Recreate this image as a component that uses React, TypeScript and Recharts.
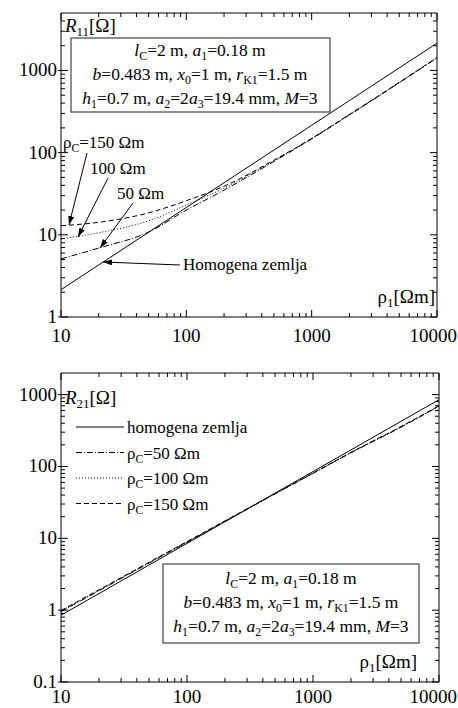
import React from 'react';
import { LineChart, Line, XAxis, YAxis } from 'recharts';

// rho_1 [Ohm m]
const rho = [10, 20, 50, 100, 200, 500, 1000, 2000, 5000, 10000];

// R11 [Ohm]
const r11Homo = [2.15, 4.3, 10.75, 21.5, 43, 107.5, 215, 430, 1075, 2150];
const r11C50 = [5.1, 6.9, 10.8, 20, 35, 78, 147, 287, 708, 1420];
const r11C100 = [8.9, 10.6, 14.8, 23, 37, 80, 148, 289, 712, 1430];
const r11C150 = [12.9, 14.2, 18.5, 26, 39, 81, 149, 291, 716, 1440];

// R21 [Ohm]
const r21Homo = [0.85, 1.7, 4.25, 8.5, 17, 42.5, 85, 170, 425, 850];
const r21C50 = [0.95, 1.86, 4.52, 8.8, 17.1, 41.5, 80, 155, 352, 690];
const r21C100 = [0.97, 1.89, 4.58, 8.9, 17.3, 41.8, 80.5, 156, 356, 695];
const r21C150 = [0.99, 1.92, 4.64, 9.0, 17.5, 42.1, 81, 157, 360, 700];

const xMajor = [10, 100, 1000, 10000];
const xMinor = [20, 30, 40, 50, 60, 70, 80, 90, 200, 300, 400, 500, 600, 700, 800, 900,
  2000, 3000, 4000, 5000, 6000, 7000, 8000, 9000];
const y1Major = [1, 10, 100, 1000];
const y1Minor = [2, 3, 4, 5, 6, 7, 8, 9, 20, 30, 40, 50, 60, 70, 80, 90,
  200, 300, 400, 500, 600, 700, 800, 900, 2000, 3000, 4000];
const y2Major = [0.1, 1, 10, 100, 1000];
const y2Minor = [0.2, 0.3, 0.4, 0.5, 0.6, 0.7, 0.8, 0.9, 2, 3, 4, 5, 6, 7, 8, 9,
  20, 30, 40, 50, 60, 70, 80, 90, 200, 300, 400, 500, 600, 700, 800, 900];

const FONT = '"Liberation Serif", "Times New Roman", "DejaVu Serif", serif';
const fontStyle = { fontFamily: FONT };

const r11Data = rho.map((r, i) => ({ rho: r, homo: r11Homo[i], c50: r11C50[i], c100: r11C100[i], c150: r11C150[i] }));
const r21Data = rho.map((r, i) => ({ rho: r, homo: r21Homo[i], c50: r21C50[i], c100: r21C100[i], c150: r21C150[i] }));

// inward ticks, longer on decades (small stub outside on the left)
const makeTick = (side: string, majors: number[], label: boolean, lblOff = 24) => (props: any) => {
  const { x, y, payload } = props;
  const v = payload.value;
  const major = majors.includes(v);
  const len = major ? 7 : 4;
  let line;
  if (side === 'bottom') line = <line x1={x} y1={y} x2={x} y2={y - len} stroke="#000" />;
  else if (side === 'top') line = <line x1={x} y1={y} x2={x} y2={y + len} stroke="#000" />;
  else if (side === 'left') line = <line x1={major ? x - 3 : x} y1={y} x2={x + len} y2={y} stroke="#000" />;
  else line = <line x1={x} y1={y} x2={x - len} y2={y} stroke="#000" />;
  let txt = null;
  if (label && major) {
    if (side === 'bottom') {
      // keep the last label inside the page
      const edge = x + 24 > 457;
      txt = <text x={edge ? 457 : x} y={y + lblOff} textAnchor={edge ? 'end' : 'middle'} fontSize={19} style={fontStyle} fill="#000">{String(v)}</text>;
    }
    if (side === 'left') txt = <text x={x - 4} y={y + 6} textAnchor="end" fontSize={19} style={fontStyle} fill="#000">{String(v)}</text>;
  }
  return <g>{line}{txt}</g>;
};

type Part = [string, string?];
function Rich({ parts, ...rest }: any) {
  let low = false;
  return (
    <text style={fontStyle} fill="#000" {...rest}>
      {parts.map(([t, k = 'n']: Part, i: number) => {
        let dy = 0;
        if (k === 's' && !low) { dy = 4; low = true; }
        else if (k !== 's' && low) { dy = -4; low = false; }
        return (
          <tspan key={i} dy={dy || undefined} fontStyle={k === 'i' ? 'italic' : undefined}
            fontSize={k === 's' ? '0.68em' : undefined}>{t}</tspan>
        );
      })}
    </text>
  );
}

const paramLines: Part[][] = [
  [['l', 'i'], ['C', 's'], ['=2 m, '], ['a', 'i'], ['1', 's'], ['=0.18 m']],
  [['b', 'i'], ['=0.483 m, '], ['x', 'i'], ['0', 's'], ['=1 m, '], ['r', 'i'], ['K1', 's'], ['=1.5 m']],
  [['h', 'i'], ['1', 's'], ['=0.7 m, '], ['a', 'i'], ['2', 's'], ['=2'], ['a', 'i'], ['3', 's'], ['=19.4 mm, '], ['M', 'i'], ['=3']],
];

function ParamBox({ x, y, w, h, cx, base }: any) {
  return (
    <g>
      <rect x={x} y={y} width={w} height={h} fill="#fff" stroke="#444" strokeWidth={1.2} />
      {paramLines.map((p, i) => (
        <Rich key={i} parts={p} x={cx} y={base + i * 24} textAnchor="middle" fontSize={17.5} />
      ))}
    </g>
  );
}

const series = [
  { key: 'homo', dash: undefined, name: 'homogena zemlja' },
  { key: 'c50', dash: '6 2 1 2', name: '50' },
  { key: 'c100', dash: '1 2', name: '100' },
  { key: 'c150', dash: '5 3', name: '150' },
];

function Chart({ data, yDomain, yMajor, yMinor, height, margin, lblOff }: any) {
  const yTicks = [...yMajor, ...yMinor];
  const xTicks = [...xMajor, ...xMinor];
  const base = { tickLine: false, tickSize: 0, tickMargin: 0, interval: 0 as const, allowDataOverflow: true, axisLine: { stroke: '#000' } };
  const xCommon = { ...base, type: 'number' as const, dataKey: 'rho', scale: 'log' as const, domain: [10, 10000], ticks: xTicks };
  const yCommon = { ...base, type: 'number' as const, scale: 'log' as const, domain: yDomain, ticks: yTicks };
  return (
    <LineChart width={458} height={height} data={data} margin={{ top: 0, right: 0, bottom: 0, left: 0 }} style={fontStyle}>
      <XAxis xAxisId="b" orientation="bottom" height={margin.bottom} {...xCommon} tick={makeTick('bottom', xMajor, true, lblOff)} />
      <XAxis xAxisId="t" orientation="top" height={margin.top} {...xCommon} tick={makeTick('top', xMajor, false)} />
      <YAxis yAxisId="l" orientation="left" width={margin.left} {...yCommon} tick={makeTick('left', yMajor, true)} />
      <YAxis yAxisId="r" orientation="right" width={margin.right} {...yCommon} tick={makeTick('right', yMajor, false)} />
      {series.map((s) => (
        <Line key={s.key} xAxisId="b" yAxisId="l" dataKey={s.key} stroke="#000" strokeWidth={1}
          strokeDasharray={s.dash} dot={false} isAnimationActive={false} type="monotone" />
      ))}
    </LineChart>
  );
}

export default function App() {
  return (
    <div style={{ position: 'absolute', left: 0, top: 0, width: 458, height: 708, background: '#fff', fontFamily: FONT }}>
      <div style={{ position: 'absolute', left: 0, top: 0 }}>
        <Chart data={r11Data} yDomain={[1, 5000]} yMajor={y1Major} yMinor={y1Minor} height={350}
          margin={{ top: 13, bottom: 33, left: 61, right: 21 }} lblOff={25} />
      </div>
      <div style={{ position: 'absolute', left: 0, top: 350 }}>
        <Chart data={r21Data} yDomain={[0.1, 2000]} yMajor={y2Major} yMinor={y2Minor} height={358}
          margin={{ top: 23, bottom: 26, left: 61, right: 19 }} lblOff={21} />
      </div>
      <svg width={458} height={708} style={{ position: 'absolute', left: 0, top: 0, pointerEvents: 'none', fontFamily: FONT }}>
        <defs>
          <marker id="ah" markerWidth={9} markerHeight={6} refX={9} refY={3} orient="auto" markerUnits="userSpaceOnUse">
            <path d="M0,0 L9,3 L0,6 z" fill="#000" />
          </marker>
        </defs>
        {/* top chart */}
        <Rich parts={[['R', 'i'], ['11', 's'], ['[Ω]']]} x={65} y={32} fontSize={19} />
        <ParamBox x={71} y={38} w={259} h={74} cx={200} base={56} />
        <Rich parts={[['ρ'], ['C', 's'], ['=150 Ωm']]} x={63} y={148} fontSize={17} />
        <Rich parts={[['100 Ωm']]} x={90} y={174} fontSize={17} />
        <Rich parts={[['50 Ωm']]} x={117} y={199} fontSize={17} />
        <Rich parts={[['Homogena zemlja']]} x={183} y={270} fontSize={17} />
        <line x1={87} y1={153} x2={69} y2={225} stroke="#000" markerEnd="url(#ah)" />
        <line x1={108} y1={178} x2={78} y2={237} stroke="#000" markerEnd="url(#ah)" />
        <line x1={133} y1={203} x2={100} y2={248} stroke="#000" markerEnd="url(#ah)" />
        <line x1={180} y1={265} x2={103} y2={262} stroke="#000" markerEnd="url(#ah)" />
        <Rich parts={[['ρ'], ['1', 's'], ['[Ωm]']]} x={435} y={303} textAnchor="end" fontSize={19} />
        {/* bottom chart */}
        <Rich parts={[['R', 'i'], ['21', 's'], ['[Ω]']]} x={65} y={404} fontSize={19} />
        {series.map((s, i) => {
          const y = 427 + i * 25.5;
          const parts: Part[] = i === 0 ? [[s.name]] : [['ρ'], ['C', 's'], ['=' + s.name + ' Ωm']];
          return (
            <g key={s.key}>
              <line x1={76} y1={y} x2={124} y2={y} stroke="#000" strokeDasharray={s.dash} />
              <Rich parts={parts} x={127} y={y + 6} fontSize={17} />
            </g>
          );
        })}
        <ParamBox x={163} y={564} w={256} h={79} cx={291} base={584} />
        <Rich parts={[['ρ'], ['1', 's'], ['[Ωm]']]} x={417} y={668} textAnchor="end" fontSize={19} />
      </svg>
    </div>
  );
}
